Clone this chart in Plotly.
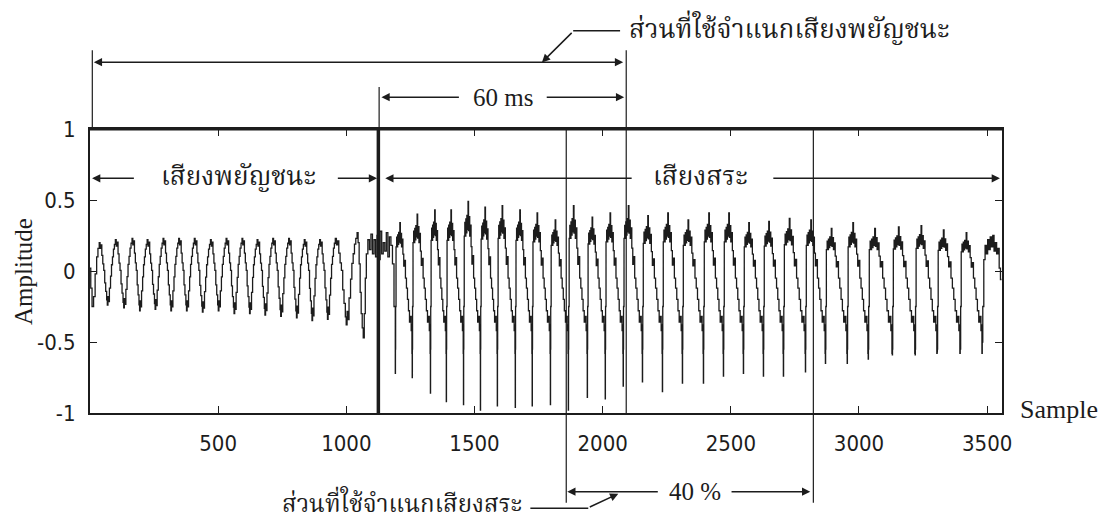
import plotly.graph_objects as go

# ---------------- data ----------------
# start of the record (partial cycle before first consonant peak)
lead_in_sample = [0, 3, 8, 14, 20, 26, 31]
lead_in_value = [0.02, -0.12, -0.25, -0.18, -0.02, 0.10, 0.16]

# consonant part: peak positions (samples), peak heights, trough depths
cons_peak_sample = [36, 99, 164, 223, 285, 346, 407, 470, 531, 593, 652, 713, 775, 836, 896, 957, 1042]
cons_peak_amp = [0.20, 0.22, 0.23, 0.22, 0.23, 0.23, 0.23, 0.22, 0.23, 0.23, 0.22, 0.23, 0.23, 0.22, 0.22, 0.23, 0.27]
cons_trough_amp = [0.24, 0.26, 0.28, 0.27, 0.28, 0.28, 0.29, 0.28, 0.30, 0.30, 0.31, 0.32, 0.33, 0.35, 0.34, 0.38]
# shape of one consonant period (phase from peak, relative level)
cons_shape_phase = [0.00, 0.05, 0.10, 0.16, 0.22, 0.28, 0.34, 0.40, 0.46, 0.50, 0.54, 0.58, 0.63, 0.70, 0.76, 0.82, 0.88, 0.94]
cons_shape_value = [1.00, 0.80, 0.92, 0.55, 0.25, 0.02, -0.35, -0.60, -0.85, -1.00, -0.75, -0.90, -0.50, -0.15, 0.20, 0.45, 0.70, 0.85]

# transition consonant -> vowel
transition_sample = [1046, 1050, 1054, 1058, 1062, 1066, 1070, 1074, 1078, 1084, 1090, 1096, 1102, 1108,
                     1114, 1120, 1126, 1132, 1138, 1144, 1150, 1156, 1162, 1168, 1174, 1180, 1186]
transition_value = [0.20, 0.05, -0.15, -0.30, -0.40, -0.47, -0.30, -0.05, 0.12, 0.22, 0.15, 0.26, 0.12, 0.22,
                    0.10, 0.25, 0.08, 0.28, 0.12, 0.20, 0.14, 0.27, 0.10, 0.24, 0.18, 0.05, -0.25]

# vowel part: negative spike positions (samples), spike depths, peak heights per period
vowel_spike_sample = [1191, 1257, 1328, 1390, 1457, 1523, 1589, 1659, 1725, 1796, 1866, 1940, 2010, 2080,
                      2155, 2233, 2311, 2393, 2471, 2549, 2627, 2705, 2791, 2869, 2954, 3036, 3130, 3219,
                      3305, 3395, 3481]
vowel_spike_depth = [0.72, 0.75, 0.86, 0.92, 0.94, 0.98, 0.95, 0.96, 0.95, 0.94, 0.98, 0.89, 0.90, 0.81,
                     0.78, 0.85, 0.79, 0.79, 0.74, 0.72, 0.74, 0.74, 0.71, 0.65, 0.65, 0.62, 0.59, 0.59,
                     0.57, 0.48, 0.50]
vowel_peak_amp = [0.34, 0.40, 0.43, 0.43, 0.49, 0.45, 0.46, 0.43, 0.41, 0.36, 0.46, 0.38, 0.41, 0.46, 0.39,
                  0.41, 0.36, 0.41, 0.41, 0.34, 0.35, 0.37, 0.36, 0.30, 0.34, 0.30, 0.31, 0.32, 0.29, 0.27]
# shape of one vowel period after the spike (positive: relative to peak, negative: absolute)
vowel_shape_phase = [0.01, 0.02, 0.045, 0.08, 0.11, 0.14, 0.17, 0.20, 0.23, 0.27, 0.30, 0.33, 0.37, 0.41,
                     0.45, 0.50, 0.55, 0.60, 0.66, 0.72, 0.78, 0.84, 0.89, 0.94, 0.97, 0.985]
vowel_shape_value = [-0.55, -0.25, 0.50, 0.70, 0.50, 0.75, 0.55, 0.80, 0.60, 1.00, 0.58, 0.78, 0.50, 0.66,
                     0.35, 0.10, 0.22, -0.05, -0.12, -0.20, -0.28, -0.36, -0.32, -0.42, -0.38, -0.58]

# end of record
tail_sample = [3483, 3487, 3492, 3497, 3502, 3507, 3512, 3517, 3522, 3527, 3532, 3537, 3542, 3547, 3552, 3556]
tail_value = [-0.25, 0.08, 0.18, 0.12, 0.22, 0.15, 0.24, 0.17, 0.25, 0.14, 0.20, 0.12, 0.16, 0.02, -0.06, -0.06]

x_ticks = [500, 1000, 1500, 2000, 2500, 3000, 3500]
y_ticks = [-1, -0.5, 0, 0.5, 1]
y_tick_text = ["-1", "-0.5", "0", "0.5", "1"]

# ---------------- assemble waveform ----------------
wave_x = list(lead_in_sample)
wave_y = list(lead_in_value)
for i in range(len(cons_peak_sample) - 1):
    s0, s1 = cons_peak_sample[i], cons_peak_sample[i + 1]
    for ph, v in zip(cons_shape_phase, cons_shape_value):
        wave_x.append(s0 + ph * (s1 - s0))
        if v >= 0:
            amp = cons_peak_amp[i] if ph < 0.5 else cons_peak_amp[i + 1]
        else:
            amp = cons_trough_amp[i]
        wave_y.append(v * amp)
wave_x.append(cons_peak_sample[-1])
wave_y.append(cons_peak_amp[-1])
wave_x += transition_sample
wave_y += transition_value
for i in range(len(vowel_spike_sample) - 1):
    s0, s1 = vowel_spike_sample[i], vowel_spike_sample[i + 1]
    wave_x.append(s0)
    wave_y.append(-vowel_spike_depth[i])
    for ph, v in zip(vowel_shape_phase, vowel_shape_value):
        wave_x.append(s0 + ph * (s1 - s0))
        wave_y.append(v * vowel_peak_amp[i] if v > 0 else v)
wave_x.append(vowel_spike_sample[-1])
wave_y.append(-vowel_spike_depth[-1])
wave_x += tail_sample
wave_y += tail_value

INK = "#1c1c1c"
SERIF = "Liberation Serif, Times New Roman, serif"
NARROW = "Liberation Sans Narrow, Arial Narrow, DejaVu Sans Condensed, Liberation Sans, sans-serif"
THAI = "Noto Serif Thai, Norasi, Kinnari, Laksaman, Noto Sans Thai, Loma, Garuda, serif"

fig = go.Figure()
fig.add_trace(go.Scatter(x=wave_x, y=wave_y, mode="lines", line=dict(color=INK, width=1.3, shape="hv"),
                         showlegend=False, hoverinfo="skip"))

shapes = []
# vertical marker lines (x in samples, y in plot-height fractions)
for xv, y0, y1, w in [(1125, 0, 1, 3.5), (2092, 0, 1.2775, 1.2), (1858, -0.316, 1, 1.2),
                      (2822, -0.316, 1, 1.2), (9, 1, 1.2775, 1.2), (1128, 1, 1.148, 1.2)]:
    shapes.append(dict(type="line", xref="x", yref="paper", x0=xv, x1=xv, y0=y0, y1=y1,
                       line=dict(color=INK, width=w)))
# heavier top frame edge
shapes.append(dict(type="line", xref="paper", yref="paper", x0=0, x1=1, y0=1, y1=1,
                   line=dict(color=INK, width=3)))
# leader horizontals
shapes.append(dict(type="line", xref="x", yref="paper", x0=1885, x1=2068, y0=1.346, y1=1.346,
                   line=dict(color=INK, width=1.5)))
shapes.append(dict(type="line", xref="x", yref="paper", x0=1718, x1=1944, y0=-0.335, y1=-0.335,
                   line=dict(color=INK, width=1.5)))

ann = []


def arrow(xh, yh, xt, dy=0, both=False):
    ann.append(dict(x=xh, y=yh, ax=xt, ay=dy, xref="x", yref="paper", axref="x", ayref="pixel", text="",
                    showarrow=True, arrowhead=2, startarrowhead=2, arrowsize=1.1, startarrowsize=1.1,
                    arrowwidth=1.5, arrowcolor=INK, arrowside="end+start" if both else "end",
                    standoff=0, startstandoff=0))


def label(x, y, text, font, size, xanchor="center", xref="x", angle=0):
    ann.append(dict(x=x, y=y, xref=xref, yref="paper", text=text, showarrow=False, xanchor=xanchor,
                    yanchor="middle", textangle=angle, font=dict(family=font, size=size, color=INK)))


# in-plot brackets (y = 0.653 amplitude -> 0.8265 of plot height)
label(581, 0.8265, "เสียงพยัญชนะ", THAI, 26)
arrow(8, 0.8265, 177)
arrow(1120, 0.8265, 961)
label(2383, 0.8265, "เสียงสระ", THAI, 26)
arrow(1152, 0.8265, 2119)
arrow(3550, 0.8265, 2660)

# top bracket + label
arrow(2080, 1.2352, 9, both=True)
label(2096, 1.346, "ส่วนที่ใช้จำแนกเสียงพยัญชนะ", THAI, 26, xanchor="left")
arrow(1763, 1.2345, 1885, dy=-31)

# 60 ms bracket
label(1612, 1.112, "60 ms", SERIF, 25)
arrow(1137, 1.112, 1445)
arrow(2084, 1.112, 1776)

# 40 % bracket
label(2361, -0.277, "40 %", SERIF, 25)
arrow(1862, -0.277, 2221)
arrow(2810, -0.277, 2497)
label(1694, -0.3264, "ส่วนที่ใช้จำแนกเสียงสระ", THAI, 24, xanchor="right")
arrow(2061, -0.284, 1944, dy=14)

# axis titles
label(-0.0735, 0.5, "Amplitude", SERIF, 25, xref="paper", angle=-90)
label(1.0175, 0.012, "Sample", SERIF, 26, xanchor="left", xref="paper")

# the page body keeps an 8 px margin, so the figure is 8 px smaller and margins shifted
fig.update_layout(
    width=1101, height=520,
    margin=dict(l=82, r=107, t=121, b=115),
    paper_bgcolor="white", plot_bgcolor="white",
    shapes=shapes, annotations=ann, showlegend=False,
    xaxis=dict(range=[0, 3558], tickvals=x_ticks, ticks="inside", ticklen=7, tickwidth=1.2,
               tickcolor=INK, showline=True, linecolor=INK, linewidth=2, mirror="ticks",
               showgrid=False, zeroline=False, ticklabelstandoff=10,
               tickfont=dict(family=NARROW, size=22, color=INK)),
    yaxis=dict(range=[-1, 1], tickvals=y_ticks, ticktext=y_tick_text, ticks="inside", ticklen=7,
               tickwidth=1.2, tickcolor=INK, showline=True, linecolor=INK, linewidth=2, mirror="ticks",
               showgrid=False, zeroline=False, ticklabelstandoff=8,
               tickfont=dict(family=NARROW, size=22, color=INK)),
)

fig.write_html("out.html")
